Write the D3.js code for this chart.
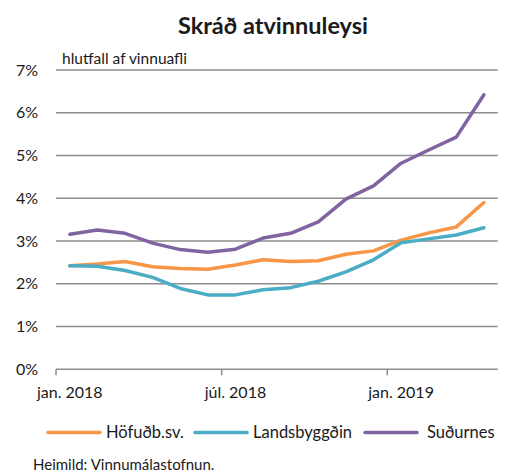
<!DOCTYPE html>
<html>
<head>
<meta charset="utf-8">
<script src="https://cdn.jsdelivr.net/npm/d3@7"></script>
<style>
  body { margin: 0; background: #fff; }
  text { font-family: Lato, "Open Sans", sans-serif; fill: #1a1a1a; }
</style>
</head>
<body>
<svg id="svg" width="509" height="473"></svg>
<script>
// months jan. 2018 - apr. 2019
const months = d3.range(16)
const tickLabels = {0: 'jan. 2018', 6: 'júl. 2018', 12: 'jan. 2019'}
const yTicks = [0, 1, 2, 3, 4, 5, 6, 7]

const hofudb = [2.42, 2.46, 2.52, 2.40, 2.36, 2.34, 2.44, 2.56, 2.52, 2.54, 2.69, 2.77, 3.02, 3.19, 3.33, 3.90]
const landsbyggdin = [2.42, 2.41, 2.31, 2.15, 1.89, 1.74, 1.74, 1.86, 1.91, 2.06, 2.28, 2.56, 2.96, 3.05, 3.14, 3.31]
const sudurnes = [3.16, 3.26, 3.18, 2.95, 2.80, 2.74, 2.81, 3.07, 3.18, 3.45, 3.98, 4.29, 4.82, 5.13, 5.43, 6.42]

const seriesNames = ['Höfuðb.sv.', 'Landsbyggðin', 'Suðurnes']
const seriesColors = ['#f79646', '#4bacc6', '#8064a2']
const series = [hofudb, landsbyggdin, sudurnes]

const svg = d3.select('#svg')

const x = d3.scaleBand()
    .domain(months)
    .range([56, 497.7])

const y = d3.scaleLinear()
    .domain([0, 7])
    .range([369.3, 70])

// title
svg.append('text')
    .attr('x', 273).attr('y', 34)
    .attr('text-anchor', 'middle')
    .style('font-size', '23.5px').style('font-weight', 'bold')
    .text('Skráð atvinnuleysi')

// gridlines
svg.selectAll('.grid').data(yTicks.filter(d => d > 0))
    .enter().append('line')
        .attr('x1', 56).attr('x2', 497.7)
        .attr('y1', d => y(d)).attr('y2', d => y(d))
        .attr('stroke', '#8c8c8c').attr('stroke-width', 1.5)

svg.selectAll('.ylab').data(yTicks)
    .enter().append('text')
        .attr('x', 38).attr('y', d => y(d))
        .attr('dy', '0.35em')
        .attr('text-anchor', 'end')
        .style('font-size', '16px')
        .text(d => d + '%')

svg.append('text')
    .attr('x', 62).attr('y', 64)
    .style('font-size', '15.5px')
    .text('hlutfall af vinnuafli')

// x axis
svg.append('line')
    .attr('x1', 56).attr('x2', 497.7)
    .attr('y1', y(0)).attr('y2', y(0))
    .attr('stroke', '#8c8c8c').attr('stroke-width', 1.5)

svg.selectAll('.xtick').data([0, 6, 12])
    .enter().append('line')
        .attr('x1', d => x(d)).attr('x2', d => x(d))
        .attr('y1', y(0)).attr('y2', y(0) + 6)
        .attr('stroke', '#8c8c8c').attr('stroke-width', 1.5)

svg.selectAll('.xlab').data([0, 6, 12])
    .enter().append('text')
        .attr('x', d => x(d) + x.bandwidth() / 2)
        .attr('y', 398)
        .attr('text-anchor', 'middle')
        .style('font-size', '16px')
        .text(d => tickLabels[d])

// lines
const line = d3.line()
    .x((d, i) => x(months[i]) + x.bandwidth() / 2)
    .y(d => y(d))

svg.selectAll('.series').data(series)
    .enter().append('path')
        .attr('d', d => line(d))
        .attr('fill', 'none')
        .attr('stroke', (d, i) => seriesColors[i])
        .attr('stroke-width', 3.5)
        .attr('stroke-linejoin', 'round')
        .attr('stroke-linecap', 'round')

// legend
const legX = [48, 195, 365]
const leg = svg.selectAll('.leg').data(seriesNames)
    .enter().append('g')
        .attr('transform', (d, i) => `translate(${legX[i]},432.5)`)
leg.append('line')
    .attr('x1', 0).attr('x2', 52)
    .attr('stroke', (d, i) => seriesColors[i])
    .attr('stroke-width', 3.5)
    .attr('stroke-linecap', 'round')
leg.append('text')
    .attr('x', (d, i) => i == 2 ? 62 : 58)
    .attr('dy', '0.35em')
    .style('font-size', '16.5px')
    .text(d => d)

svg.append('text')
    .attr('x', 33).attr('y', 470)
    .style('font-size', '15px')
    .text('Heimild: Vinnumálastofnun.')
</script>
</body>
</html>
